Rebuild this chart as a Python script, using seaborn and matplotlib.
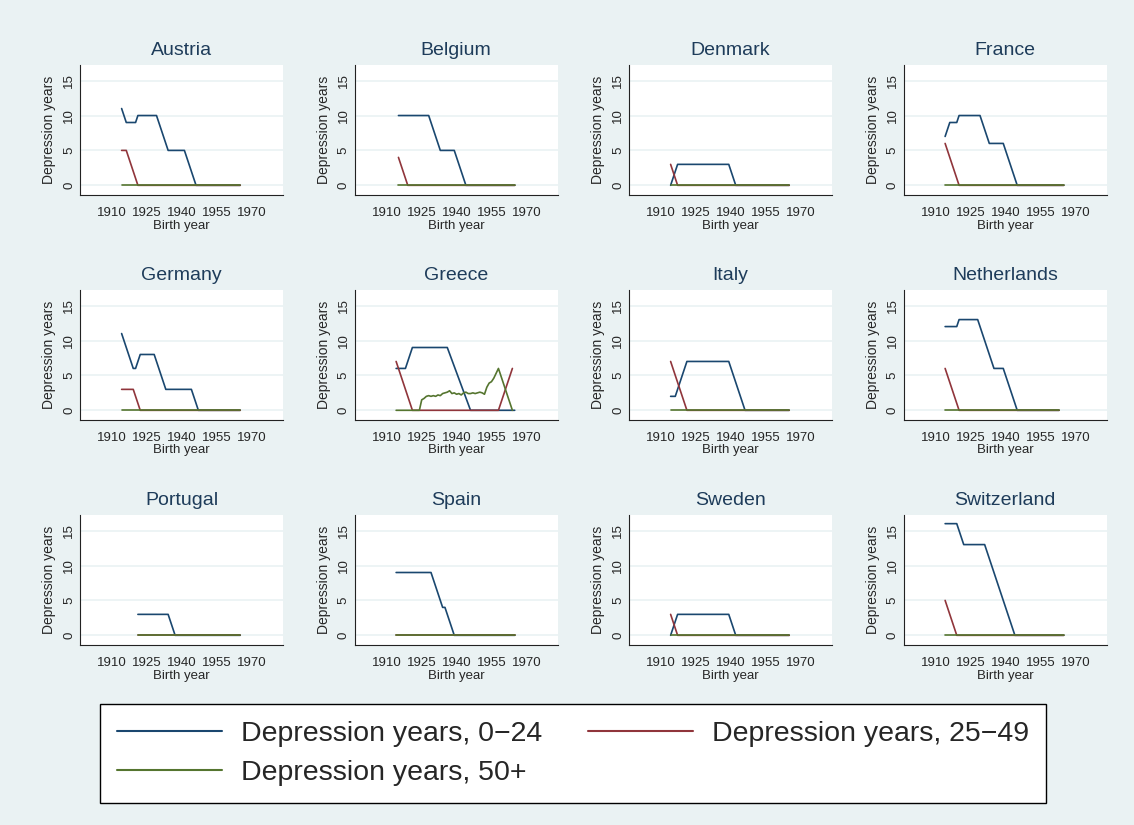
import matplotlib
matplotlib.use("Agg")
import pandas as pd
import seaborn as sns
from matplotlib import pyplot as plt
from matplotlib.lines import Line2D

COUNTRIES = ["Austria", "Belgium", "Denmark", "France",
             "Germany", "Greece", "Italy", "Netherlands",
             "Portugal", "Spain", "Sweden", "Switzerland"]
SERIES = ["Depression years, 0\u221224", "Depression years, 25\u221249", "Depression years, 50+"]
XTICKS = [1910, 1925, 1940, 1955, 1970]
YTICKS = [0, 5, 10, 15]

# (birth year, depression years) break points
dep_0_24 = {
    "Austria": [(1914, 11), (1916, 9), (1920, 9), (1921, 10), (1929, 10), (1934, 5), (1941, 5), (1946, 0), (1965, 0)],
    "Belgium": [(1915, 10), (1928, 10), (1933, 5), (1939, 5), (1944, 0), (1965, 0)],
    "Denmark": [(1914, 0), (1917, 3), (1939, 3), (1942, 0), (1965, 0)],
    "France": [(1914, 7), (1916, 9), (1919, 9), (1920, 10), (1929, 10), (1933, 6), (1939, 6), (1945, 0), (1965, 0)],
    "Germany": [(1914, 11), (1919, 6), (1920, 6), (1922, 8), (1928, 8), (1933, 3), (1944, 3), (1947, 0), (1965, 0)],
    "Greece": [(1914, 6), (1918, 6), (1921, 9), (1936, 9), (1946, 0), (1965, 0)],
    "Italy": [(1914, 2), (1916, 2), (1921, 7), (1939, 7), (1946, 0), (1965, 0)],
    "Netherlands": [(1914, 12), (1919, 12), (1920, 13), (1928, 13), (1935, 6), (1939, 6), (1945, 0), (1963, 0)],
    "Portugal": [(1921, 3), (1934, 3), (1937, 0), (1965, 0)],
    "Spain": [(1914, 9), (1929, 9), (1934, 4), (1935, 4), (1939, 0), (1965, 0)],
    "Sweden": [(1914, 0), (1917, 3), (1939, 3), (1942, 0), (1965, 0)],
    "Switzerland": [(1914, 16), (1919, 16), (1922, 13), (1931, 13), (1944, 0), (1965, 0)],
}
dep_25_49 = {
    "Austria": [(1914, 5), (1916, 5), (1921, 0), (1965, 0)],
    "Belgium": [(1915, 4), (1919, 0), (1965, 0)],
    "Denmark": [(1914, 3), (1917, 0), (1965, 0)],
    "France": [(1914, 6), (1920, 0), (1965, 0)],
    "Germany": [(1914, 3), (1919, 3), (1922, 0), (1965, 0)],
    "Greece": [(1914, 7), (1921, 0), (1958, 0), (1964, 6)],
    "Italy": [(1914, 7), (1921, 0), (1965, 0)],
    "Netherlands": [(1914, 6), (1920, 0), (1963, 0)],
    "Portugal": [(1921, 0), (1965, 0)],
    "Spain": [(1914, 0), (1965, 0)],
    "Sweden": [(1914, 3), (1917, 0), (1965, 0)],
    "Switzerland": [(1914, 5), (1919, 0), (1965, 0)],
}
dep_50_plus = {
    "Austria": [(1914, 0), (1965, 0)],
    "Belgium": [(1915, 0), (1965, 0)],
    "Denmark": [(1914, 0), (1965, 0)],
    "France": [(1914, 0), (1965, 0)],
    "Germany": [(1914, 0), (1965, 0)],
    "Greece": [(1914, 0), (1924, 0), (1925, 1.5), (1926, 1.7), (1927, 2.0), (1928, 2.1), (1929, 2.0),
               (1930, 2.1), (1931, 2.0), (1932, 2.2), (1933, 2.1), (1934, 2.4), (1935, 2.5), (1936, 2.6),
               (1937, 2.8), (1938, 2.4), (1939, 2.5), (1940, 2.3), (1941, 2.4), (1942, 2.2), (1943, 2.5),
               (1944, 2.6), (1945, 2.4), (1946, 2.4), (1947, 2.5), (1948, 2.4), (1949, 2.5), (1950, 2.6),
               (1951, 2.5), (1952, 2.3), (1953, 3.3), (1954, 3.9), (1955, 4.1), (1956, 4.6), (1957, 5.3),
               (1958, 6.0), (1964, 0)],
    "Italy": [(1914, 0), (1965, 0)],
    "Netherlands": [(1914, 0), (1963, 0)],
    "Portugal": [(1921, 0), (1965, 0)],
    "Spain": [(1914, 0), (1965, 0)],
    "Sweden": [(1914, 0), (1965, 0)],
    "Switzerland": [(1914, 0), (1965, 0)],
}

COLORS = ["#1a476f", "#90353b", "#55752f"]
BG = "#eaf2f3"

rows = []
for label, table in zip(SERIES, [dep_0_24, dep_25_49, dep_50_plus]):
    for country, pts in table.items():
        for year, val in pts:
            rows.append((country, label, year, val))
df = pd.DataFrame(rows, columns=["country", "series", "year", "value"])

sns.set_style("white")
plt.rcParams["font.family"] = ["Liberation Sans", "DejaVu Sans"]

fig = plt.figure(figsize=(11.34, 8.25), dpi=100, facecolor=BG)
W, H = 1134, 825

for i, country in enumerate(COUNTRIES):
    r, c = divmod(i, 4)
    left = 80 + 274.5 * c
    top = 65 + 225 * r
    ax = fig.add_axes([left / W, 1 - (top + 130) / H, 203 / W, 130 / H])
    ax.set_facecolor("white")
    for y in YTICKS:
        ax.axhline(y, color=BG, lw=1.2, zorder=0)
    sns.lineplot(data=df[df["country"] == country], x="year", y="value", hue="series",
                 hue_order=SERIES, palette=COLORS, estimator=None, sort=False,
                 legend=False, linewidth=1.2, ax=ax)
    ax.set_xlim(1896.1, 1983.4)
    ax.set_ylim(-1.39, 17.24)
    ax.set_xticks(XTICKS)
    ax.set_yticks(YTICKS)
    ax.set_xticklabels([str(x) for x in XTICKS], fontsize=9.5)
    ax.set_yticklabels([str(y) for y in YTICKS], fontsize=9.5, rotation=90, va="center")
    ax.tick_params(axis="x", length=5, width=0.8, color="#222222", pad=4)
    ax.tick_params(axis="y", length=3, width=0.8, color="#222222", pad=0.5)
    ax.set_xlabel("Birth year", fontsize=9.5, labelpad=0)
    ax.set_ylabel("Depression years", fontsize=10, labelpad=5)
    ax.set_title(country, fontsize=14, color="#1e3c5a", pad=7)
    for side in ["top", "right"]:
        ax.spines[side].set_visible(False)
    for side in ["left", "bottom"]:
        ax.spines[side].set_color("#222222")
        ax.spines[side].set_linewidth(0.8)

handles = [Line2D([], [], color=col, lw=1.5) for col in COLORS]
order = [0, 2, 1]
leg = fig.legend([handles[k] for k in order], [SERIES[k] for k in order], ncol=2,
                 loc="center", bbox_to_anchor=(100 / W, 1 - 804 / H, 946 / W, 101 / H),
                 mode="expand", borderaxespad=0, fontsize=20.5, handlelength=3.7,
                 handletextpad=0.65, labelspacing=0.45, borderpad=0.6, fancybox=False,
                 framealpha=1, facecolor="white", edgecolor="black")
leg.get_frame().set_linewidth(1.0)

fig.savefig("out.png", dpi=100, facecolor=BG)
